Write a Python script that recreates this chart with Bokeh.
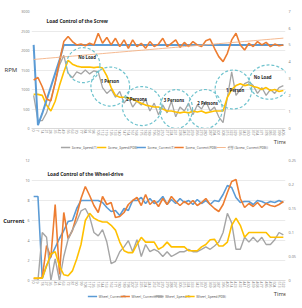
import numpy as np
from bokeh.plotting import figure
from bokeh.models import (Range1d, LinearAxis, FixedTicker, SingleIntervalTicker,
                          NumeralTickFormatter)
from bokeh.layouts import column
from bokeh.core.properties import value
from bokeh.embed import file_html
from bokeh.resources import INLINE

# ---------------- Screw ----------------
screw_time = ["0", "7", "14", "21", "28", "35", "42", "49", "56", "63", "70", "77", "84", "91",
              "98", "105", "112", "119", "126", "133", "140", "147", "154", "161", "168", "175",
              "182", "189", "196", "203", "210", "217", "224", "231", "238", "245", "252", "259",
              "266", "273", "280", "287", "294", "301", "308", "315", "322", "329", "336", "343",
              "350", "357", "364", "371", "378", "385", "392", "399", "406"]
screw_speed_t = [850, 200, 200, 400, 750, 1170, 1625, 1875, 1420, 1300, 1450, 1400, 1500, 1400,
                 1480, 1450, 1050, 900, 1000, 800, 950, 650, 800, 550, 700, 600, 750, 450, 650,
                 350, 600, 400, 700, 300, 550, 450, 650, 350, 600, 500, 700, 450, 550, 300, 150,
                 800, 1450, 850, 1000, 1150, 1200, 1100, 900, 1050, 850, 1000, 900, 1050, 1100]
screw_speed_pdb = [875, 875, 850, 600, 450, 700, 1100, 1450, 1750, 1650, 1600, 1575, 1575, 1575,
                   1560, 1575, 1550, 1350, 1050, 850, 800, 800, 780, 750, 700, 650, 600, 575, 550,
                   550, 500, 450, 450, 425, 400, 425, 400, 450, 425, 450, 400, 425, 450, 450, 450,
                   800, 1000, 1100, 1150, 1100, 1125, 1075, 1050, 1000, 1050, 975, 1000, 950, 975]
screw_current_t = [5.0, 0.2, 0.9, 1.7, 2.5, 3.3, 4.1, 5.0, 5.0, 5.0, 5.0, 5.0, 5.0, 5.0, 5.0,
                   5.0, 5.0, 5.0, 5.0, 5.0, 5.0, 5.0, 5.0, 5.0, 5.0, 5.0, 5.0, 5.0, 5.0, 5.0,
                   5.0, 5.0, 5.0, 5.0, 5.0, 5.0, 5.0, 5.0, 5.0, 5.0, 5.0, 5.0, 5.0, 5.0, 5.0,
                   5.0, 5.0, 5.0, 5.0, 5.0, 5.0, 5.0, 5.0, 5.0, 5.0, 5.0, 5.0, 5.0, 5.0]
screw_current_pdb = [2.9, 3.05, 2.5, 1.76, 1.65, 2.75, 4.0, 5.2, 5.5, 5.2, 5.0, 5.05, 4.95, 5.1,
                     5.0, 5.7, 5.1, 5.45, 5.0, 5.4, 4.9, 5.3, 4.8, 5.3, 4.9, 5.1, 4.8, 5.2, 4.9,
                     5.05, 5.4, 4.9, 5.1, 5.3, 4.85, 5.15, 4.9, 5.2, 5.0, 4.9, 5.25, 5.35, 4.8,
                     4.3, 4.0, 4.5, 5.3, 5.7, 5.0, 4.7, 5.1, 4.9, 5.2, 5.0, 5.15, 4.9, 5.05,
                     4.95, 5.0]

# load-phase markers on the screw chart (category index, rpm)
phase_names = ["No Load", "1 Person", "2 Persons", "3 Persons", "2 Persons", "1 Person", "No Load"]
phase_x = [11.5, 17.8, 25.2, 33.1, 39.8, 46.4, 54.7]
phase_y = [1625, 1075, 575, 500, 500, 1000, 1190]
phase_w = [7.8, 9.0, 9.2, 7.6, 8.0, 8.5, 9.4]
phase_h = [900, 1000, 1000, 1000, 1000, 1000, 880]
phase_label_x = [12.4, 17.7, 23.9, 32.6, 40.4, 46.8, 53.2]
phase_label_y = [1825, 1225, 750, 725, 650, 1000, 1325]

# ---------------- Wheel-drive ----------------
wheel_time = ["0", "9", "18", "27", "36", "45", "54", "63", "72", "81", "90", "99", "108", "117",
              "126", "135", "144", "153", "162", "171", "180", "189", "198", "207", "216", "225",
              "234", "243", "252", "261", "270", "279", "288", "297", "306", "315", "324", "333",
              "342", "351", "360", "369", "378", "387", "396", "405", "414", "423", "432", "441",
              "450", "459", "468", "477", "486", "495", "504", "513", "522"]
wheel_current_t = [8.4, 8.4, 0.2, 1.5, 2.4, 3.3, 4.2, 5.0, 5.9, 6.0, 7.2, 8.0, 8.0, 8.0, 8.0,
                   8.0, 7.8, 7.3, 6.9, 7.0, 6.5, 7.2, 7.0, 8.0, 8.0, 8.3, 7.7, 8.2, 7.7, 7.9,
                   8.4, 7.6, 8.1, 7.7, 8.2, 7.8, 8.0, 7.6, 8.1, 7.7, 8.0, 7.6, 8.0, 7.9, 8.6,
                   9.5, 9.3, 8.3, 7.8, 7.9, 7.9, 7.6, 8.0, 7.9, 7.7, 7.9, 7.8, 8.0, 7.8]
wheel_current_pdb = [0.2, 0.2, 0.3, 3.5, 2.3, 7.6, 0.6, 6.8, 4.2, 5.0, 6.5, 8.2, 9.4, 8.5, 7.5,
                     6.8, 8.4, 7.6, 7.8, 6.3, 6.4, 6.8, 7.6, 8.0, 8.3, 7.5, 8.6, 7.6, 8.0, 7.4,
                     8.2, 7.6, 8.4, 7.9, 7.5, 7.9, 7.6, 8.0, 7.5, 7.8, 8.2, 7.6, 7.2, 6.9, 7.6,
                     8.8, 9.9, 10.1, 8.2, 7.3, 7.7, 7.4, 7.8, 7.3, 7.7, 7.5, 7.4, 7.6, 7.9]
wheel_speed_t = [0.0, 0.0, 0.10, 0.09, 0.0, 0.045, 0.0, 0.05, 0.086, 0.105, 0.123, 0.145, 0.15,
                 0.133, 0.10, 0.093, 0.106, 0.08, 0.035, 0.04, 0.06, 0.07, 0.083, 0.06, 0.085,
                 0.05, 0.075, 0.06, 0.065, 0.06, 0.05, 0.06, 0.05, 0.055, 0.06, 0.06, 0.065,
                 0.06, 0.06, 0.065, 0.07, 0.065, 0.072, 0.08, 0.10, 0.14, 0.12, 0.065, 0.065,
                 0.09, 0.08, 0.09, 0.08, 0.09, 0.075, 0.075, 0.085, 0.10, 0.095]
wheel_speed_pdb = [0.005, 0.005, 0.005, 0.03, 0.055, 0.06, 0.03, 0.012, 0.01, 0.02, 0.045, 0.075,
                   0.125, 0.14, 0.13, 0.125, 0.122, 0.122, 0.115, 0.105, 0.08, 0.062, 0.058,
                   0.058, 0.075, 0.09, 0.08, 0.08, 0.08, 0.065, 0.07, 0.08, 0.07, 0.07, 0.07,
                   0.07, 0.062, 0.062, 0.062, 0.07, 0.075, 0.085, 0.086, 0.072, 0.072, 0.08,
                   0.115, 0.13, 0.115, 0.09, 0.10, 0.10, 0.10, 0.10, 0.10, 0.09, 0.09, 0.09, 0.09]

# legend rows (label, colour, line width, swatch start x in the legend strip)
screw_legend = [("Screw_Speed(T)", "#A5A5A5", 1.3, 35),
                ("Screw_Speed(PDB)", "#FFC000", 1.5, 78),
                ("Screw_Current(T)", "#5B9BD5", 1.5, 125),
                ("Screw_Current(PDB)", "#ED7D31", 1.5, 170),
                ("선형 (Screw_Current(PDB))", "#F4B183", 0.9, 220)]
wheel_legend = [("Wheel_Current(T)", "#5B9BD5", 1.5, 67),
                ("Wheel_Current(PDB)", "#ED7D31", 1.5, 106),
                ("Wheel_Speed(T)", "#A5A5A5", 1.3, 146),
                ("Wheel_Speed(PDB)", "#FFC000", 1.5, 183)]

GREY, YELLOW, BLUE, ORANGE, TREND = "#A5A5A5", "#FFC000", "#5B9BD5", "#ED7D31", "#F4B183"
TICK_COLOR = "#7F7F7F"


def set_if(model, name, val):
    if name in model.properties():
        setattr(model, name, val)


def style_axis(ax, size="3.8px"):
    ax.major_label_text_font = "Noto Sans"
    ax.major_label_text_font_size = size
    ax.major_label_text_color = TICK_COLOR
    ax.major_tick_line_color = None
    ax.minor_tick_line_color = None
    ax.major_tick_out = 0
    ax.major_tick_in = 0
    ax.minor_tick_out = 0
    ax.axis_line_color = None


def base_figure(labels, y_lo, y_hi, height, border_left, border_top, border_bottom,
                ylabel, ylabel_size, ylabel_style, ylabel_color, ylabel_standoff):
    n = len(labels)
    p = figure(width=302, height=height, x_range=Range1d(-0.5, n - 0.5),
               y_range=Range1d(y_lo, y_hi), output_backend="svg", toolbar_location=None,
               min_border_left=border_left, min_border_right=17,
               min_border_top=border_top, min_border_bottom=border_bottom,
               outline_line_color=None, background_fill_color="white",
               border_fill_color="white")
    p.xgrid.visible = False
    p.ygrid.grid_line_color = "#E4E4E4"
    p.ygrid.grid_line_width = 0.8
    xa = p.xaxis[0]
    xa.ticker = FixedTicker(ticks=list(range(n)))
    xa.major_label_overrides = {i: t for i, t in enumerate(labels)}
    xa.major_label_orientation = "vertical"
    xa.major_label_standoff = 1
    style_axis(xa, "3.6px")
    xa.axis_line_color = "#D9D9D9"
    ya = p.yaxis[0]
    ya.major_label_standoff = 2
    style_axis(ya, "3.6px")
    ya.axis_label = ylabel
    ya.axis_label_text_font = "Noto Sans"
    ya.axis_label_text_font_size = ylabel_size
    ya.axis_label_text_font_style = ylabel_style
    ya.axis_label_text_color = ylabel_color
    ya.axis_label_standoff = ylabel_standoff
    set_if(ya, "axis_label_orientation", "horizontal")
    return p


def legend_strip(entries, height, legend_y, time_y):
    """A bare strip below a chart carrying its legend row and the 'Time' caption."""
    s = figure(width=302, height=height, x_range=Range1d(0, 302), y_range=Range1d(height, 0),
               output_backend="svg", toolbar_location=None, x_axis_location=None,
               y_axis_location=None, min_border=0, outline_line_color=None,
               background_fill_color="white", border_fill_color="white")
    s.grid.visible = False
    for label, color, lw, x0 in entries:
        s.segment(x0=[x0], y0=[legend_y], x1=[x0 + 11], y1=[legend_y], line_color=color,
                  line_width=lw)
        s.text(x=[x0 + 13], y=[legend_y], text=[label], text_font=value("Noto Sans CJK KR"),
               text_font_size="3.3px", text_color="#595959", text_baseline="middle")
    s.text(x=[288], y=[time_y], text=["Time"], text_font=value("Noto Sans"),
           text_font_size="5.8px", text_color="#404040", text_baseline="middle")
    return s


# ---------- Screw chart ----------
p1 = base_figure(screw_time, 0, 3000, 138, 28, 11, 8, "RPM", "6px", "normal", "#404040", 1)
p1.yaxis[0].ticker = SingleIntervalTicker(interval=500)
p1.extra_y_ranges = {"cur": Range1d(0, 7)}
ax1r = LinearAxis(y_range_name="cur", ticker=SingleIntervalTicker(interval=1))
ax1r.major_label_standoff = 3
style_axis(ax1r)
p1.add_layout(ax1r, "right")

idx = np.arange(len(screw_time))
coef = np.polyfit(idx, screw_current_pdb, 1)
screw_trend = np.polyval(coef, idx)

p1.line(idx, screw_speed_t, line_color=GREY, line_width=1.3)
p1.line(idx, screw_speed_pdb, line_color=YELLOW, line_width=1.6)
p1.line(idx, screw_current_t, line_color=BLUE, line_width=2.0, y_range_name="cur")
p1.line(idx, screw_current_pdb, line_color=ORANGE, line_width=1.6, y_range_name="cur")
p1.line(idx, screw_trend, line_color=TREND, line_width=0.9, y_range_name="cur")

p1.ellipse(x=phase_x, y=phase_y, width=phase_w, height=phase_h, fill_color=None,
           line_color="#6FC3CE", line_width=1.2, line_dash="3 2")
p1.text(x=phase_label_x, y=phase_label_y, text=phase_names, text_font=value("Noto Sans"),
        text_font_size="4.3px", text_font_style="bold", text_color="#262626",
        text_align="center", text_baseline="middle")
p1.text(x=[3.0], y=[2750], text=["Load Control of the Screw"], text_font=value("Noto Sans"),
        text_font_size="4.8px", text_font_style="bold", text_color="#262626",
        text_baseline="middle")

s1 = legend_strip(screw_legend, 16, 9, 3.5)

# ---------- Wheel-drive chart ----------
p2 = base_figure(wheel_time, 0, 12, 136, 26, 6, 8, "Current", "5.5px", "bold", "#262626", -2)
p2.yaxis[0].ticker = SingleIntervalTicker(interval=2)
p2.extra_y_ranges = {"spd": Range1d(0, 0.25)}
ax2r = LinearAxis(y_range_name="spd", ticker=FixedTicker(ticks=[0, 0.05, 0.1, 0.15, 0.2, 0.25]),
                  formatter=NumeralTickFormatter(format="0.[00]"))
ax2r.major_label_standoff = 3
style_axis(ax2r)
p2.add_layout(ax2r, "right")

idx2 = np.arange(len(wheel_time))
p2.line(idx2, wheel_current_t, line_color=BLUE, line_width=1.6)
p2.line(idx2, wheel_current_pdb, line_color=ORANGE, line_width=1.6)
p2.line(idx2, wheel_speed_t, line_color=GREY, line_width=1.4, y_range_name="spd")
p2.line(idx2, wheel_speed_pdb, line_color=YELLOW, line_width=1.6, y_range_name="spd")

p2.text(x=[3.2], y=[10.7], text=["Load Control of the Wheel-drive"], text_font=value("Noto Sans"),
        text_font_size="4.8px", text_font_style="bold", text_color="#262626",
        text_baseline="middle")

s2 = legend_strip(wheel_legend, 18, 6, 3.5)

layout = column(p1, s1, p2, s2, spacing=0)
open("out.html", "w").write(file_html(layout, INLINE))
